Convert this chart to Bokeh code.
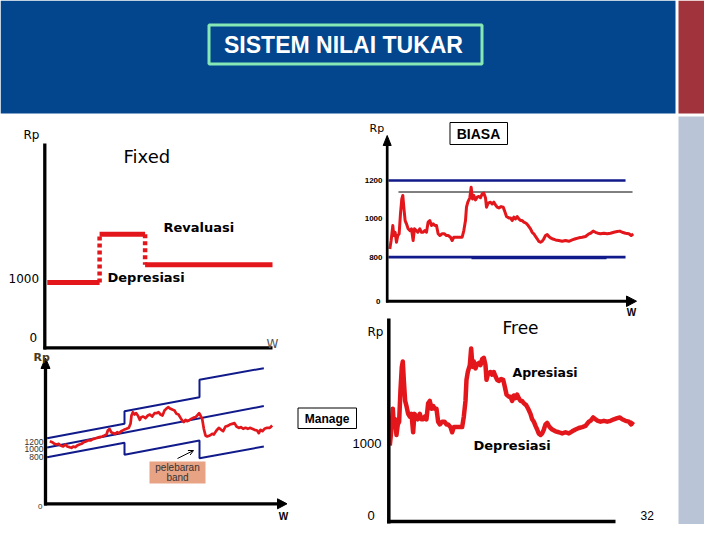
from bokeh.plotting import figure
from bokeh.models import Range1d, Arrow, OpenHead
from bokeh.core.properties import value
from bokeh.embed import file_html
from bokeh.resources import INLINE

# ---------------- data ----------------
# Fixed regime: period boundaries and Rp level in each period
fixed_t = [0.1, 2.4, 4.4, 10.0]
fixed_rp = [1000, 1730, 1270]

# "Biasa" (normal band) regime: daily rate (also reused in the Free panel)
biasa_day = [0, 4, 9, 12, 16, 20, 24, 28, 32, 36, 39, 42, 46, 50, 55, 60, 65, 70, 74, 80,
             84, 90, 95, 100, 105, 110, 115, 120, 125, 130, 135, 140, 145, 150, 157, 164, 170, 175, 182, 187,
             192, 202, 212, 217, 222, 227, 230, 234, 240, 244, 248, 252, 257, 262, 267, 272, 277, 282, 287, 290,
             295, 302, 307, 312, 317, 322, 327, 334, 340, 344, 350, 357, 362, 367, 372, 377, 382, 387, 392, 397,
             402, 409, 415, 422, 427, 432, 437, 442, 447, 452, 457, 462, 467, 472, 477, 482, 487, 497, 507, 517,
             527, 537, 547, 557, 567, 577, 587, 597, 602, 610, 617, 624, 632, 642, 652, 662, 672, 682, 690, 697,
             707, 717, 724, 730]
biasa_rp = [843, 887, 965, 913, 930, 878, 913, 922, 1026, 1104, 1122, 1061, 991, 974, 948, 939, 948, 887, 948, 939,
            930, 948, 930, 930, 939, 930, 983, 991, 965, 974, 965, 965, 922, 913, 922, 922, 913, 913, 904, 887,
            904, 904, 904, 904, 939, 991, 1061, 1087, 1110, 1165, 1104, 1122, 1099, 1113, 1117, 1110, 1130, 1134, 1110, 1061,
            1082, 1087, 1078, 1087, 1073, 1061, 1057, 1064, 1061, 1043, 1012, 1005, 1005, 991, 1009, 1000, 1012, 1000, 991, 991,
            983, 977, 965, 948, 930, 922, 908, 896, 882, 878, 883, 896, 913, 918, 908, 901, 896, 890, 887, 883,
            887, 883, 890, 896, 901, 904, 908, 922, 925, 936, 930, 925, 922, 925, 922, 925, 930, 934, 936, 930,
            925, 922, 913, 922]
biasa_band_day = [-4, 707]
biasa_upper = 1200
biasa_lower = 800
biasa_lower_thick_day = [245, 650]
biasa_ref_day = [26, 728]
biasa_ref = 1140
biasa_ticks = [1200, 1000, 800]

# Managed regime: widening band (upper, centre, lower) and rate
manage_band_day = [0, 232, 232, 457, 457, 650]
manage_upper = [1196, 1497, 1763, 2057, 2421, 2666]
manage_lower = [797, 1098, 846, 1147, 776, 1021]
manage_mid_day = [0, 650]
manage_mid = [1000, 1870]
manage_day = [8, 15, 22, 28, 35, 40, 48, 55, 60, 67, 73, 78, 85, 90, 97, 103, 110, 116, 122, 130,
              137, 144, 150, 157, 165, 172, 178, 182, 187, 192, 198, 205, 210, 216, 222, 230, 238, 245, 250, 253,
              257, 262, 267, 272, 278, 282, 288, 295, 302, 308, 315, 322, 328, 334, 340, 346, 352, 357, 363, 370,
              377, 382, 388, 394, 400, 405, 410, 415, 420, 425, 432, 438, 445, 450, 456, 460, 465, 470, 475, 480,
              488, 495, 500, 508, 515, 522, 528, 535, 542, 548, 555, 562, 568, 575, 582, 588, 595, 602, 608, 615,
              622, 630, 635, 640, 646, 652, 660, 668, 675]
manage_rp = [1133, 1112, 1077, 1063, 1077, 1042, 1021, 1063, 1021, 1007, 993, 1021, 1007, 1042, 1063, 1077, 1112, 1126, 1147, 1147,
             1175, 1189, 1203, 1217, 1231, 1252, 1273, 1357, 1392, 1322, 1301, 1287, 1322, 1301, 1343, 1371, 1392, 1413, 1497, 1672,
             1742, 1693, 1721, 1672, 1581, 1637, 1651, 1616, 1672, 1693, 1651, 1721, 1721, 1742, 1693, 1672, 1777, 1812, 1847, 1812,
             1791, 1777, 1707, 1693, 1623, 1567, 1532, 1581, 1553, 1567, 1602, 1623, 1637, 1672, 1721, 1672, 1602, 1392, 1252, 1231,
             1252, 1287, 1273, 1357, 1413, 1371, 1343, 1441, 1455, 1483, 1497, 1511, 1441, 1413, 1427, 1392, 1413, 1392, 1413, 1392,
             1371, 1357, 1301, 1371, 1343, 1392, 1413, 1413, 1462]
manage_ticks = ["1200", "1000", "800"]

assert len(biasa_day) == len(biasa_rp)
assert len(manage_day) == len(manage_rp)

# ---------------- colours ----------------
RED = "#e3161b"
NAVY = "#101a8a"
HEADER = "#03468e"

# ---------------- figure (slide coordinates, y downward) ----------------
W, H = 704, 524
X0, X1 = 0, W
Y0, Y1 = 0, H
p = figure(width=W, height=H, x_range=Range1d(X0, X1), y_range=Range1d(Y1, Y0),
           output_backend="svg", toolbar_location=None, min_border=0,
           x_axis_location=None, y_axis_location=None)
p.grid.visible = False
p.outline_line_color = None
p.background_fill_color = "white"
p.border_fill_color = "white"


def rng(d1, s1, d2, s2, lo, hi):
    b = (s2 - s1) / (d2 - d1)
    return Range1d(start=d1 + (lo - s1) / b, end=d1 + (hi - s1) / b)


# panel scales: (data anchor -> slide position)
p.extra_x_ranges = {
    "fx": rng(0, 44.5, 10, 272, X0, X1),
    "bx": rng(0, 389.3, 730, 632.7, X0, X1),
    "mx": rng(0, 46.67, 650, 263.33, X0, X1),
}
p.extra_y_ranges = {
    "fy": rng(0, 348, 1000, 282, Y1, Y0),
    "by": rng(800, 256.7, 1200, 180, Y1, Y0),
    "ry": rng(843, 445, 1165, 348, Y1, Y0),
    "my": rng(1000, 447, 1700, 413.67, Y1, Y0),
}


def label(x, y, s, size, font="DejaVu Sans", style="normal", color="black", align="left"):
    p.text(x=[x], y=[y], text=[s], text_font=value(font), text_font_size=f"{size}px",
           text_font_style=style, text_color=color, text_align=align, text_baseline="middle")


def seg(xs, ys, w=3, color="black"):
    p.line(xs, ys, line_width=w, line_color=color)


def tri(xs, ys):
    p.patch(xs, ys, fill_color="black", line_color="black", line_width=1)


# ---------------- slide frame ----------------
p.quad(left=[0], right=[675], top=[0], bottom=[113], fill_color=HEADER, line_color=None)
p.quad(left=[678], right=[720], top=[0], bottom=[113], fill_color="#a0333b", line_color=None)
p.quad(left=[678], right=[720], top=[116], bottom=[540], fill_color="#b9c5d6", line_color=None)
p.quad(left=[208.5], right=[481.5], top=[24.5], bottom=[63.5], fill_color=None,
       line_color="#86e8b4", line_width=3)
label(343, 44.5, "SISTEM NILAI TUKAR", 23, font="Liberation Sans", style="bold", color="white", align="center")

# ---------------- Fixed panel ----------------
seg([44.3, 44.3], [143, 349], 3.3)
seg([43, 272], [347.3, 347.3], 3.3)
for i in range(3):
    p.line([fixed_t[i], fixed_t[i + 1]], [fixed_rp[i], fixed_rp[i]], line_width=5, line_color=RED,
           x_range_name="fx", y_range_name="fy")
p.line([fixed_t[1], fixed_t[1]], [fixed_rp[0], fixed_rp[1]], line_width=4.5, line_color=RED,
       line_dash="4 3", x_range_name="fx", y_range_name="fy")
p.line([fixed_t[2], fixed_t[2]], [fixed_rp[1], fixed_rp[2]], line_width=4.5, line_color=RED,
       line_dash="4 3", x_range_name="fx", y_range_name="fy")
label(23, 134, "Rp", 12)
label(123, 156, "Fixed", 18)
label(163, 227, "Revaluasi", 13, style="bold")
label(107, 277, "Depresiasi", 13, style="bold")
label(8, 278, "1000", 12)
label(29, 337, "0", 12)
label(266, 343, "W", 12, color="#555555")

# ---------------- Biasa panel ----------------
p.line(biasa_band_day, [biasa_upper] * 2, line_width=2.7, line_color=NAVY, x_range_name="bx", y_range_name="by")
p.line(biasa_band_day, [biasa_lower] * 2, line_width=2.7, line_color=NAVY, x_range_name="bx", y_range_name="by")
p.line(biasa_lower_thick_day, [biasa_lower - 3] * 2, line_width=3, line_color=NAVY, x_range_name="bx", y_range_name="by")
p.line(biasa_ref_day, [biasa_ref] * 2, line_width=1, line_color="black", x_range_name="bx", y_range_name="by")
p.line(biasa_day, biasa_rp, line_width=3, line_color=RED, line_join="round", x_range_name="bx", y_range_name="by")
seg([386.7, 386.7], [142, 302], 2.7)
tri([386.7, 382.7, 390.7], [135, 145, 145])
seg([385.5, 628], [300.7, 300.7], 3)
tri([636, 626, 626], [300.7, 295.5, 306])
p.text(x=[382] * 3, y=biasa_ticks, text=[str(v) for v in biasa_ticks], text_font=value("Liberation Sans"),
       text_font_size="8px", text_font_style="bold", text_align="right", text_baseline="middle",
       y_range_name="by")
label(380, 301, "0", 8, font="Liberation Sans", style="bold", align="right")
label(369, 128, "Rp", 11)
p.quad(left=[449.5], right=[507], top=[122], bottom=[144], fill_color="white", line_color="black", line_width=1)
label(478, 133.5, "BIASA", 14, font="Liberation Sans", style="bold", align="center")
label(631, 312, "W", 10, font="Liberation Sans", style="bold", align="center")

# ---------------- Manage panel ----------------
p.line(manage_band_day, manage_upper, line_width=2, line_color=NAVY, x_range_name="mx", y_range_name="my")
p.line(manage_band_day, manage_lower, line_width=2, line_color=NAVY, x_range_name="mx", y_range_name="my")
p.line(manage_mid_day, manage_mid, line_width=2, line_color=NAVY, x_range_name="mx", y_range_name="my")
p.line(manage_day, manage_rp, line_width=2.7, line_color=RED, line_join="round", x_range_name="mx", y_range_name="my")
seg([45, 45], [366, 505], 3.3)
tri([45, 40.5, 49.5], [357.5, 368, 368])
seg([43.5, 279], [503.3, 503.3], 3.3)
tri([286.5, 277, 277], [503.3, 498.3, 508.3])
for s, yy in zip(manage_ticks, [441, 448.5, 456]):
    label(43, yy, s, 8.5, font="Liberation Sans", color="#333333", align="right")
label(42, 506, "0", 8, font="Liberation Sans", color="#333333", align="right")
label(33, 357, "Rp", 11, style="bold", color="#4a3a20")
label(283, 515.5, "W", 10, font="Liberation Sans", style="bold", align="center")
p.quad(left=[149], right=[205], top=[461], bottom=[483], fill_color="#e8a385", line_color=None)
label(177, 467, "pelebaran", 10, font="Liberation Sans", color="#333333", align="center")
label(177, 477, "band", 10, font="Liberation Sans", color="#333333", align="center")
p.add_layout(Arrow(end=OpenHead(size=5, line_width=1), x_start=177, y_start=458, x_end=193, y_end=450,
                   line_width=1))
p.quad(left=[297.5], right=[356], top=[407.5], bottom=[428], fill_color="white", line_color="black", line_width=1)
label(326.7, 418, "Manage", 12, font="Liberation Sans", style="bold", align="center")

# ---------------- Free panel ----------------
p.line(biasa_day, biasa_rp, line_width=4.5, line_color=RED, line_join="round", x_range_name="bx", y_range_name="ry")
seg([388.3, 388.3], [318, 523], 3.5)
seg([386.5, 615], [521, 521], 3.5)
label(367, 331, "Rp", 12)
label(502, 327, "Free", 17)
label(512, 372, "Apresiasi", 12.5, style="bold")
label(473, 445, "Depresiasi", 13, style="bold")
label(352, 443, "1000", 13, font="Liberation Sans")
label(367, 515, "0", 13, font="Liberation Sans")
label(640, 515, "32", 12, font="Liberation Sans")

open("out.html", "w").write(file_html(p, INLINE))
